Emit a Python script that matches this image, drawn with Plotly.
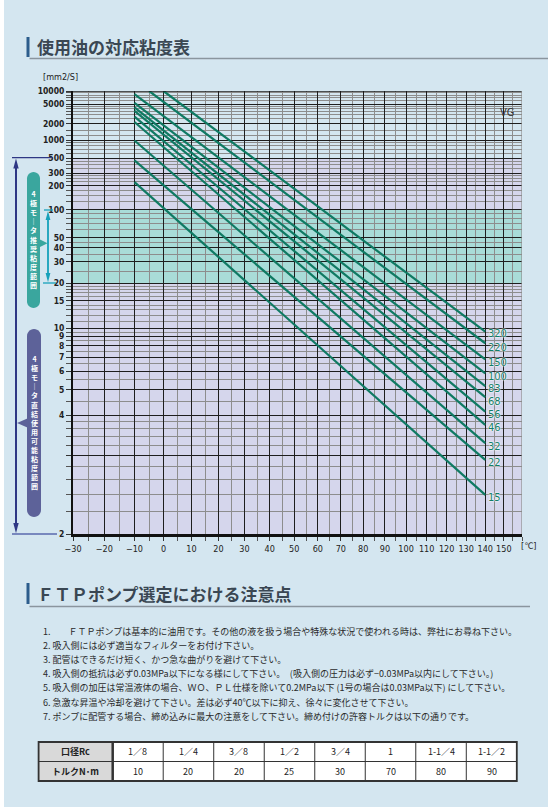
import math
import plotly.graph_objects as go

# ---------------- data ----------------
vg_grades = ["320", "220", "150", "100", "83", "68", "56", "46", "32", "22", "15"]
start_temps = [0, -5, -10, -10, -10, -10, -10, -10, -10, -10, -10]
start_visc = [10000, 10000, 8500, 5400, 4300, 3630, 2780, 2180, 990, 465, 224]
end_temps = [140, 140, 140, 140, 140, 140, 140, 140, 140, 140, 140]
end_visc = [9.57, 8.26, 6.84, 5.88, 5.18, 4.67, 4.12, 3.71, 3.25, 2.91, 2.39]

x_tick_temps = [-30, -20, -10, 0, 10, 20, 30, 40, 50, 60, 70, 80, 90, 100, 110, 120, 130, 140, 150]
x_tick_labels = ["−30", "−20", "−10", "0", "10", "20", "30", "40", "50", "60", "70", "80", "90",
                 "100", "110", "120", "130", "140", "150"]
x_minor_temps = [-25, -15, -5, 5, 15, 25, 35, 45, 55, 65, 75, 85, 95, 105, 115, 125, 135, 145, 155, 160]

y_tick_values = [10000, 5000, 2000, 1000, 500, 300, 200, 100, 50, 40, 30, 20, 15, 10, 9, 8, 7, 6, 5, 4, 3, 2]
y_tick_labels = ["10000", "5000", "2000", "1000", "500", "300", "200", "100", "50", "40", "30", "20",
                 "15", "10", "9", "8", "7", "6", "5", "4", "", "2"]
y_minor_values = [9000, 8000, 7000, 6000, 4500, 4000, 3500, 3000, 2500, 1500, 1200, 900, 800, 700, 600,
                  450, 400, 350, 275, 250, 225, 175, 150, 125, 90, 80, 70, 60, 45, 35, 25,
                  19, 18, 17, 16, 14, 13, 12, 11, 9.5, 8.5, 7.5, 6.5, 5.5, 4.5,
                  3.8, 3.6, 3.4, 3.2, 2.8, 2.6, 2.4, 2.2]

band_recommended = [20, 100]     # 4極モータ推奨粘度範囲
band_usable = [2, 500]           # 4極モータ直結使用可能粘度範囲

notes = [
    "1.　　ＦＴＰポンプは基本的に油用です。その他の液を扱う場合や特殊な状況で使われる時は、弊社にお尋ね下さい。",
    "2. 吸入側には必ず適当なフィルターをお付け下さい。",
    "3. 配管はできるだけ短く、かつ急な曲がりを避けて下さい。",
    "4. 吸入側の抵抗は必ず0.03MPa以下になる様にして下さい。　(吸入側の圧力は必ず−0.03MPa以内にして下さい。)",
    "5. 吸入側の加圧は常温液体の場合、ＷＯ、ＰＬ仕様を除いて0.2MPa以下 (1号の場合は0.03MPa以下) にして下さい。",
    "6. 急激な昇温や冷却を避けて下さい。差は必ず40℃以下に抑え、徐々に変化させて下さい。",
    "7. ポンプに配管する場合、締め込みに最大の注意をして下さい。締め付けの許容トルクは以下の通りです。",
]
table_sizes = ["口径Rc", "1／8", "1／4", "3／8", "1／2", "3／4", "1", "1-1／4", "1-1／2"]
table_torque = ["トルクN･m", "10", "20", "20", "25", "30", "70", "80", "90"]

# ---------------- helpers ----------------
FW, FH = 558, 807
def tx(t):
    return math.log10(t + 273.15)
def ty(v):
    return math.log10(math.log10(v))
def PX(x):
    return x / FW
def PY(y):
    return 1 - y / FH

JP = "Noto Sans CJK JP"
NUM = "Liberation Sans Narrow, DejaVu Sans Condensed, Liberation Sans, sans-serif"
LINE = "#0f7a63"
PANEL = "#d4e6f0"
label_nudge = {"320": -1.5, "220": -4.5, "83": -2.2, "68": -4.2}   # small vertical label offsets (px)

fig = go.Figure()

for g, t0, v0, t1, v1 in zip(vg_grades, start_temps, start_visc, end_temps, end_visc):
    fig.add_trace(go.Scatter(x=[tx(t0), tx(t1)], y=[ty(v0), ty(v1)], mode="lines",
                             line=dict(color=LINE, width=2.2), hoverinfo="skip"))
    fig.add_annotation(x=tx(t1), y=ty(v1), text=g, showarrow=False, xanchor="left", yanchor="middle",
                       xshift=1, yshift=label_nudge.get(g, -3),
                       font=dict(family=NUM, size=11, color="#137d66",
                                 shadow="0 0 2px white, 0 0 2px white, 0 0 1px white"))

shapes = []
shapes.append(dict(type="rect", xref="paper", yref="paper", x0=PX(4), x1=PX(548), y0=0, y1=1,
                   fillcolor=PANEL, line_width=0, layer="below"))
xr = [tx(-30), tx(160)]
shapes.append(dict(type="rect", xref="x", yref="y", x0=xr[0], x1=xr[1], y0=ty(band_usable[0]), y1=ty(band_usable[1]),
                   fillcolor="#d5d6ec", line_width=0, layer="below"))
shapes.append(dict(type="rect", xref="x", yref="y", x0=xr[0], x1=xr[1], y0=ty(band_recommended[0]), y1=ty(band_recommended[1]),
                   fillcolor="#a9dcd8", line_width=0, layer="below"))
shapes.append(dict(type="line", xref="x", yref="y", x0=xr[0], x1=xr[1], y0=ty(10000), y1=ty(10000),
                   line=dict(color="#1e1e1e", width=1.3)))
shapes.append(dict(type="line", xref="x", yref="y", x0=xr[1], x1=xr[1], y0=ty(2), y1=ty(10000),
                   line=dict(color="#8d8d8d", width=1.2)))

def seg(x0, y0, x1, y1, color, width):
    shapes.append(dict(type="line", xref="paper", yref="paper", x0=PX(x0), y0=PY(y0), x1=PX(x1), y1=PY(y1),
                       line=dict(color=color, width=width)))

def poly(pts, color):
    path = "M " + " L ".join(f"{PX(x):.5f},{PY(y):.5f}" for x, y in pts) + " Z"
    shapes.append(dict(type="path", xref="paper", yref="paper", path=path, fillcolor=color, line_width=0))

def pill(x0, x1, y0, y1, color, n=14):
    r = (x1 - x0) / 2
    cx = (x0 + x1) / 2
    pts = []
    for i in range(n + 1):
        a = math.pi - math.pi * i / n
        pts.append((cx + r * math.cos(a), y0 + r - r * math.sin(a)))
    for i in range(n + 1):
        a = math.pi * i / n
        pts.append((cx + r * math.cos(a), y1 - r + r * math.sin(a)))
    poly(pts, color)

# titles decorations
for (bx, by0, by1, uy, ux1) in [(28, 37, 57, 58.5, 548), (28, 583, 604, 606.5, 530)]:
    shapes.append(dict(type="rect", xref="paper", yref="paper", x0=PX(bx - 1.5), x1=PX(bx + 1.5),
                       y0=PY(by1), y1=PY(by0), fillcolor="#2c5d8c", line_width=0))
    seg(bx + 1.5, uy, ux1, uy, "#8a959e", 1.3)

# navy arrow (usable range)
NAVY = "#2e3784"
seg(12, 157.7, 52, 157.7, NAVY, 1.3)
seg(12, 534, 57, 534, "#5a68ae", 1.3)
seg(16, 165, 16, 526, NAVY, 2)
poly([(16, 158.5), (13.3, 168.5), (18.7, 168.5)], NAVY)
poly([(16, 533.2), (13.3, 523), (18.7, 523)], NAVY)
# cyan arrow (recommended range)
CY = "#17a1ba"
seg(44, 210, 53, 210, CY, 1.3)
seg(43, 283, 56, 283, CY, 1.3)
seg(48, 216, 48, 277, CY, 1.8)
poly([(48, 211), (45.6, 220), (50.4, 220)], CY)
poly([(48, 282.3), (45.6, 273), (50.4, 273)], CY)
# pills
TEAL = "#3aa69e"
PURP = "#5d6299"
pill(27, 40, 172, 308, TEAL)
poly([(39, 239), (47.5, 243.2), (39, 247.4)], TEAL)
pill(27, 41, 329, 517, PURP)
poly([(28.5, 418), (17, 423), (28.5, 428)], PURP)

ann = []
teal_txt = "4極モ｜タ推奨粘度範囲"
purp_txt = "4極モ｜タ直結使用可能粘度範囲"
ann.append(dict(x=PX(33.5), y=PY(239.5), text="<br>".join(teal_txt),
                font=dict(family=JP, size=7, color="white", weight="bold")))
ann.append(dict(x=PX(34), y=PY(422), text="<br>".join(purp_txt),
                font=dict(family=JP, size=7, color="white", weight="bold")))

ann.append(dict(x=PX(35), y=PY(46.5), text="使用油の対応粘度表", xanchor="left",
                font=dict(family=JP, size=17, color="#3a4753", weight="bold")))
ann.append(dict(x=PX(35), y=PY(593), text="ＦＴＰポンプ選定における注意点", xanchor="left",
                font=dict(family=JP, size=17, color="#3a4753", weight="bold")))
ann.append(dict(x=PX(41), y=PY(76.5), text="[mm2/S]", xanchor="left", font=dict(family=NUM, size=9, color="#222")))
ann.append(dict(x=PX(519), y=PY(546), text="[℃]", xanchor="left", font=dict(family=NUM, size=9, color="#222")))
ann.append(dict(x=PX(507), y=PY(112.5), text="VG", font=dict(family=NUM, size=11, color="#333")))

for i, t in enumerate(notes):
    ann.append(dict(x=PX(41), y=PY(631 + i * 14.2), text=t, xanchor="left",
                    font=dict(family=JP, size=9, color="#2a2a2a")))

# table
tl, tr, t_top, t_mid, t_bot = 38.6, 516.8, 742, 761.5, 781
c1 = 112.7
cw = (tr - c1) / 8
shapes.append(dict(type="rect", xref="paper", yref="paper", x0=PX(tl), x1=PX(tr), y0=PY(t_bot), y1=PY(t_top),
                   fillcolor="white", line_width=0))
shapes.append(dict(type="rect", xref="paper", yref="paper", x0=PX(tl), x1=PX(c1), y0=PY(t_bot), y1=PY(t_top),
                   fillcolor="#d9d9d9", line_width=0))
seg(tl, t_mid, tr, t_mid, "#333", 1)
for k in range(1, 8):
    seg(c1 + k * cw, t_top, c1 + k * cw, t_bot, "#333", 1)
seg(c1, t_top, c1, t_bot, "#333", 2.5)
shapes.append(dict(type="rect", xref="paper", yref="paper", x0=PX(tl), x1=PX(tr), y0=PY(t_bot), y1=PY(t_top),
                   fillcolor="rgba(0,0,0,0)", line=dict(color="#333", width=1.8)))
centers = [(tl + c1) / 2] + [c1 + (k + 0.5) * cw for k in range(8)]
for row, yy in [(table_sizes, (t_top + t_mid) / 2), (table_torque, (t_mid + t_bot) / 2)]:
    for j, (cx, txt) in enumerate(zip(centers, row)):
        ann.append(dict(x=PX(cx), y=PY(yy), text=txt,
                        font=dict(family=JP, size=9, color="#222", weight="bold" if j == 0 else "normal")))

for a in ann:
    a.setdefault("showarrow", False)
    a.setdefault("xanchor", "center")
    a.setdefault("yanchor", "middle")
    a["xref"] = "paper"
    a["yref"] = "paper"
    fig.add_annotation(**a)

fig.update_layout(
    width=FW, height=FH, autosize=False, showlegend=False,
    margin=dict(l=0, r=0, t=0, b=0, pad=0, autoexpand=False),
    paper_bgcolor="white", plot_bgcolor="white",
    shapes=shapes,
    xaxis=dict(domain=[73 / FW, 522 / FW], range=xr, tickmode="array", automargin=False,
               tickvals=[tx(t) for t in x_tick_temps], ticktext=x_tick_labels,
               showgrid=True, gridcolor="#1e1e1e", gridwidth=1.3, zeroline=False,
               showline=True, linecolor="#111", linewidth=2.5,
               ticks="outside", ticklen=4, tickcolor="#333", tickwidth=1,
               tickfont=dict(family=NUM, size=9, color="#222"),
               minor=dict(tickmode="array", tickvals=[tx(t) for t in x_minor_temps], showgrid=True,
                          gridcolor="#8d8d8d", gridwidth=1.2, ticks="outside", ticklen=4, tickcolor="#555")),
    yaxis=dict(domain=[1 - 534 / FH, 1 - 91 / FH], range=[ty(2), ty(10000)], tickmode="array", automargin=False,
               tickvals=[ty(v) for v in y_tick_values], ticktext=y_tick_labels,
               showgrid=True, gridcolor="#1e1e1e", gridwidth=1.3, zeroline=False,
               showline=True, linecolor="#111", linewidth=2,
               ticks="outside", ticklen=5, tickcolor="#333", tickwidth=1,
               tickfont=dict(family=NUM, size=8.5, color="#222", weight="bold"),
               minor=dict(tickmode="array", tickvals=[ty(v) for v in y_minor_values], showgrid=True,
                          gridcolor="#8d8d8d", gridwidth=1, ticks="outside", ticklen=5, tickcolor="#555")),
)

fig.write_html("out.html", config={"displayModeBar": False},
               post_script="document.body.style.margin='0';document.documentElement.style.overflow='hidden';")
